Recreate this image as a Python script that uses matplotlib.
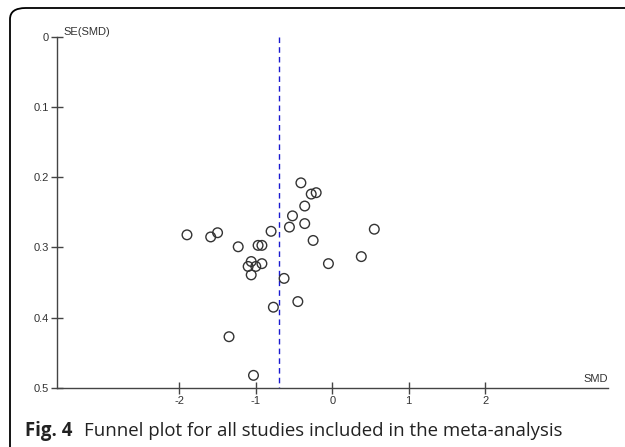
import numpy as np
import matplotlib
matplotlib.use("Agg")
import matplotlib.pyplot as plt
from matplotlib.patches import FancyBboxPatch

# === Study values ===
smd = [-0.41, -0.275, -0.21, -0.36, -0.52, -0.56, -0.36, 0.55, -1.90, -1.59,
       -1.50, -0.80, -0.25, -1.23, -0.97, -0.92, 0.38, -0.05, -1.06, -1.10,
       -1.00, -0.92, -1.06, -0.63, -0.45, -0.77, -1.35, -1.03]
se_smd = [0.208, 0.224, 0.222, 0.241, 0.255, 0.271, 0.266, 0.274, 0.282, 0.285,
          0.279, 0.277, 0.290, 0.299, 0.297, 0.297, 0.313, 0.323, 0.320, 0.327,
          0.327, 0.323, 0.339, 0.344, 0.377, 0.385, 0.427, 0.482]
pooled_smd = -0.70

x_ticks = [-2, -1, 0, 1, 2]
y_ticks = [0, 0.1, 0.2, 0.3, 0.4, 0.5]
y_tick_labels = ["0", "0.1", "0.2", "0.3", "0.4", "0.5"]

plt.rcParams['font.family'] = ['Liberation Sans', 'DejaVu Sans']

fig = plt.figure(figsize=(6.25, 4.47), dpi=100)
W, H = 625, 447

# --- rounded frame around the figure ---
frame = FancyBboxPatch((10 / W, -20 / H), 640 / W, (447 - 8 + 20) / H,
                       boxstyle="round,pad=0,rounding_size=0.025",
                       transform=fig.transFigure, fill=False,
                       edgecolor="black", linewidth=1.3, clip_on=False)
fig.patches.append(frame)

ax = fig.add_axes([57 / W, 1 - 388 / H, (607.5 - 57) / W, (388 - 36.7) / H])

ax.plot([pooled_smd, pooled_smd], [0, 0.5], color="#1a1ad0", linestyle=(0, (4, 3)),
        linewidth=1.0)
ax.scatter(smd, se_smd, s=48, facecolors="none", edgecolors="#333333", linewidths=1.0,
           zorder=3)

ax.set_xlim(-3.6, 3.6)
ax.set_ylim(0.5, 0)
ax.spines["top"].set_visible(False)
ax.spines["right"].set_visible(False)
for s in ["left", "bottom"]:
    ax.spines[s].set_color("#444444")
    ax.spines[s].set_linewidth(1.0)

ax.set_xticks(x_ticks)
ax.set_xticklabels([str(t) for t in x_ticks])
ax.set_yticks(y_ticks)
ax.set_yticklabels(y_tick_labels)
ax.tick_params(direction="inout", length=8, width=1.0, color="#444444",
               labelsize=8, labelcolor="#333333", pad=2)

ax.text(0.012, 1.0, "SE(SMD)", transform=ax.transAxes, fontsize=8,
        color="#333333", ha="left", va="bottom")
ax.text(1.0, 0.012, "SMD", transform=ax.transAxes, fontsize=8,
        color="#333333", ha="right", va="bottom")

# --- caption ---
fig.text(25 / W, 1 - 436 / H, "Fig. 4", fontsize=13.4, fontweight="bold",
         family=["Open Sans", "DejaVu Sans"], va="baseline", ha="left", color="#222222")
fig.text(84 / W, 1 - 436 / H, "Funnel plot for all studies included in the meta-analysis",
         fontsize=13.4, family=["Open Sans", "DejaVu Sans"], va="baseline", ha="left",
         color="#222222")

fig.savefig("out.png", dpi=100)
